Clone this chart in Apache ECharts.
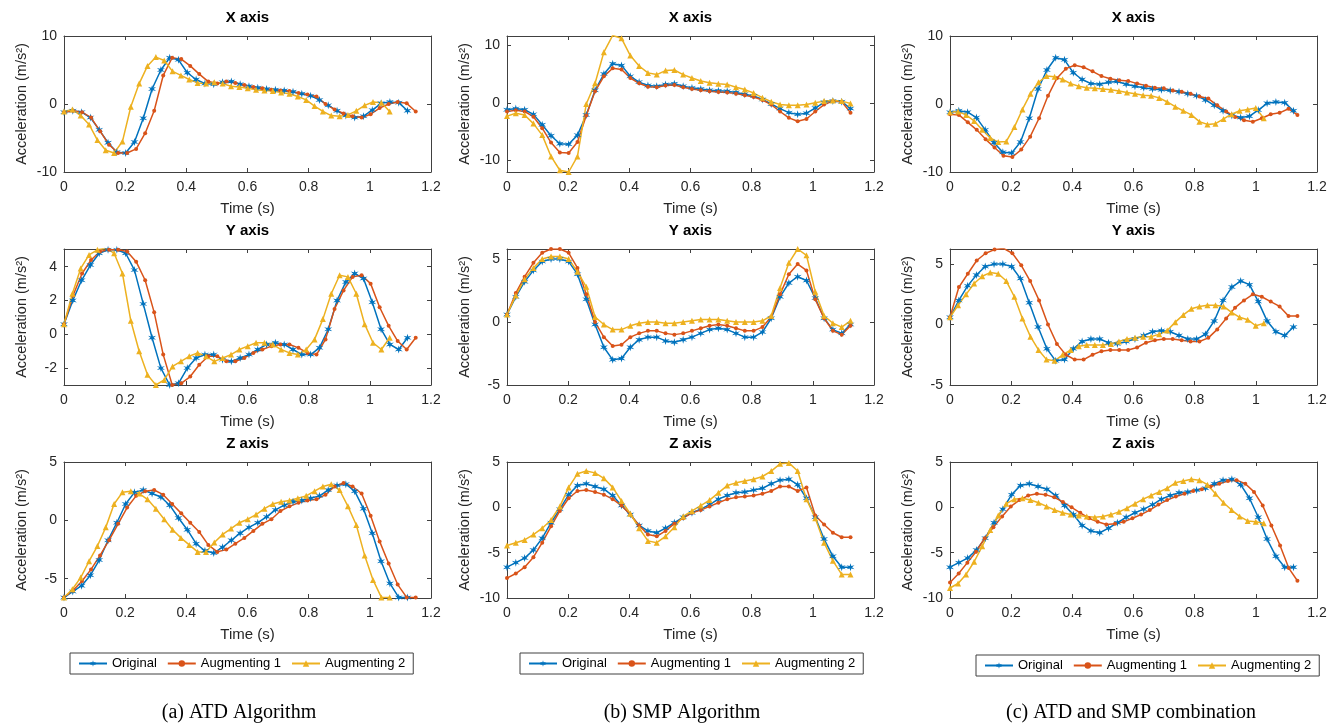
<!DOCTYPE html>
<html>
<head>
<meta charset="utf-8">
<title>Acceleration augmentation</title>
<script src="https://cdn.jsdelivr.net/npm/echarts@6/dist/echarts.min.js"></script>
<style>
html, body { margin: 0; padding: 0; background: #fff; }
#chart { width: 1330px; height: 725px; }
</style>
</head>
<body>
<div id="chart"></div>
<script>
// ---- data (m/s^2) ----
const seriesNames = ['Original', 'Augmenting 1', 'Augmenting 2'];
const axisTitles = ['X axis', 'Y axis', 'Z axis'];
const captions = ['(a) ATD Algorithm', '(b) SMP Algorithm', '(c) ATD and SMP combination'];
const xTicks = [0, 0.2, 0.4, 0.6, 0.8, 1, 1.2];

// sampling step of the original recording (s), 40 samples
const timeStep = 0.0288;
const origX = [-1.2,-1.0,-1.2,-2.0,-3.8,-5.7,-7.1,-7.2,-5.6,-2.1,2.2,5.0,6.8,6.5,4.6,3.6,3.0,2.9,3.2,3.3,2.9,2.6,2.4,2.2,2.1,2.0,1.8,1.5,1.2,0.6,-0.2,-1.0,-1.7,-2.0,-1.8,-0.9,0.1,0.3,0.2,-1.0];
const origY = [0.6,2.0,3.2,4.1,4.8,5.0,5.0,4.8,3.8,1.8,-0.2,-2.0,-3.0,-2.9,-2.0,-1.4,-1.2,-1.2,-1.5,-1.6,-1.4,-1.2,-0.9,-0.6,-0.5,-0.6,-0.9,-1.2,-1.2,-0.8,0.3,2.0,3.1,3.6,3.3,1.9,0.3,-0.6,-0.9,-0.2];
const origZ = [-6.6,-6.1,-5.6,-4.7,-3.4,-1.7,-0.2,1.4,2.4,2.6,2.3,2.0,1.3,0.2,-0.8,-2.0,-2.6,-2.8,-2.3,-1.7,-1.1,-0.6,-0.2,0.3,0.9,1.3,1.6,1.7,1.9,2.1,2.6,3.0,3.1,2.5,1.0,-1.1,-3.5,-5.4,-6.6,-6.6];

// (a) ATD: time warped, so each augmented series ends at its own time
const atdEnd1 = 1.15;
const atdEnd2 = 1.065;
const atdX1 = [-1.2,-1.0,-1.2,-2.0,-4.0,-6.0,-7.2,-7.2,-6.6,-4.3,-1.0,4.2,6.8,6.6,5.6,4.4,3.3,3.0,3.3,3.1,2.8,2.5,2.3,2.1,2.0,1.9,1.6,1.4,1.1,0.0,-0.8,-1.4,-1.8,-2.0,-1.5,-0.6,0.0,0.3,0.1,-1.1];
const atdX2 = [-1.1,-0.8,-1.7,-3.0,-5.3,-6.8,-7.2,-5.5,-0.4,3.0,5.6,6.9,6.4,4.8,4.2,3.6,3.1,3.0,3.2,3.0,2.6,2.5,2.3,2.1,2.0,1.9,1.7,1.5,1.1,0.6,-0.3,-1.1,-1.7,-1.8,-1.6,-1.0,-0.2,0.3,0.2,-1.1];
const atdY1 = [0.6,2.3,3.6,4.4,4.9,5.0,5.0,4.9,4.3,3.2,1.3,-1.2,-3.0,-2.9,-2.5,-1.8,-1.3,-1.3,-1.6,-1.6,-1.4,-1.1,-0.9,-0.7,-0.6,-0.6,-0.8,-1.1,-1.2,-0.3,1.5,2.6,3.4,3.5,3.0,1.6,0.5,-0.4,-0.9,-0.2];
const atdY2 = [0.6,2.4,3.9,4.7,5.0,5.1,4.8,3.6,0.8,-1.0,-2.4,-3.0,-2.7,-1.9,-1.6,-1.3,-1.1,-1.3,-1.6,-1.4,-1.2,-0.9,-0.7,-0.5,-0.5,-0.6,-0.9,-1.1,-1.2,-0.9,-0.3,0.9,2.4,3.5,3.4,2.4,0.6,-0.5,-0.9,-0.2];
const atdZ1 = [-6.6,-6.0,-5.2,-4.2,-3.0,-1.7,-0.3,1.1,2.1,2.5,2.6,2.2,1.4,0.6,-0.2,-1.0,-2.1,-2.7,-2.5,-2.0,-1.5,-0.9,-0.3,0.1,0.8,1.2,1.5,1.7,1.8,2.2,2.9,3.2,2.9,2.3,0.4,-1.8,-3.7,-5.5,-6.6,-6.6];
const atdZ2 = [-6.6,-5.9,-4.9,-3.5,-2.2,-0.6,1.4,2.4,2.5,2.3,1.8,1.0,0.1,-0.8,-1.5,-2.1,-2.7,-2.7,-1.9,-1.2,-0.7,-0.2,0.1,0.5,1.0,1.4,1.6,1.7,1.9,2.1,2.5,2.9,3.1,2.6,1.2,-0.4,-3.0,-5.1,-6.6,-6.6];

// (b) SMP: magnitude warped, same time base as the original
const smpX1 = [-1.5,-1.3,-1.5,-2.4,-4.4,-6.9,-8.6,-8.7,-6.8,-2.2,2.0,4.6,6.0,5.8,4.3,3.4,2.8,2.7,3.0,3.1,2.7,2.4,2.2,2.0,1.9,1.8,1.6,1.3,1.0,0.5,-0.3,-1.5,-2.6,-3.2,-2.8,-1.5,-0.3,0.3,0.2,-1.7];
const smpX2 = [-2.3,-1.8,-2.1,-3.6,-5.6,-9.3,-11.7,-12.0,-9.3,-0.2,3.4,8.8,11.7,11.2,8.2,6.4,5.2,4.9,5.6,5.7,4.9,4.3,3.8,3.5,3.3,3.2,2.7,2.3,1.7,0.9,0.2,-0.3,-0.4,-0.4,-0.3,0.0,0.3,0.4,0.3,-0.1];
const smpY1 = [0.6,2.3,3.6,4.7,5.5,5.8,5.8,5.5,4.3,2.2,0.0,-1.2,-1.9,-1.8,-1.2,-0.9,-0.7,-0.7,-0.9,-1.0,-0.9,-0.7,-0.5,-0.3,-0.2,-0.3,-0.5,-0.7,-0.7,-0.4,0.4,2.2,3.8,4.6,4.1,1.8,0.3,-0.7,-1.0,-0.3];
const smpY2 = [0.6,2.1,3.4,4.3,5.0,5.2,5.2,5.0,4.0,2.8,0.4,-0.2,-0.6,-0.6,-0.3,-0.1,0.0,0.0,-0.1,-0.1,0.0,0.1,0.2,0.2,0.2,0.1,0.0,0.0,0.0,0.1,0.5,2.7,4.7,5.8,5.3,2.4,0.5,-0.1,-0.4,0.1];
const smpZ1 = [-7.8,-7.3,-6.6,-5.5,-3.9,-2.1,-0.4,1.0,1.8,1.9,1.7,1.4,0.9,0.2,-0.8,-2.0,-3.0,-3.2,-2.6,-1.8,-1.2,-0.6,-0.3,0.1,0.5,0.9,1.1,1.2,1.3,1.5,1.8,2.3,2.3,1.8,2.2,-0.9,-1.9,-2.8,-3.3,-3.3];
const smpZ2 = [-4.2,-3.9,-3.6,-3.0,-2.3,-1.4,0.1,2.2,3.7,4.0,3.8,3.2,2.2,0.7,-0.7,-2.3,-3.7,-3.9,-3.2,-2.2,-1.0,-0.4,0.2,0.8,1.6,2.4,2.7,2.9,3.1,3.4,4.0,4.8,4.9,4.0,0.9,-1.2,-3.9,-5.9,-7.4,-7.4];

// (c) ATD + SMP
const combEnd1 = 1.136;
const combEnd2 = 1.026;
const combX1 = [-1.5,-1.6,-2.7,-3.8,-5.2,-6.4,-7.6,-7.8,-6.7,-4.8,-2.1,1.2,3.8,5.2,5.7,5.4,4.8,4.1,3.7,3.5,3.4,3.0,2.7,2.4,2.3,2.0,1.8,1.5,1.1,0.8,-0.2,-1.1,-1.9,-2.4,-2.6,-2.1,-1.5,-1.3,-0.7,-1.6];
const combX2 = [-1.2,-1.1,-1.6,-2.5,-3.8,-5.0,-5.6,-5.5,-3.4,-0.8,1.5,3.2,4.1,4.0,3.6,3.0,2.6,2.4,2.3,2.2,2.1,1.9,1.7,1.5,1.3,1.2,0.9,0.3,-0.4,-1.0,-1.6,-2.6,-3.0,-2.9,-2.2,-1.5,-1.0,-0.8,-0.6,-2.1];
const combY1 = [0.6,3.1,4.2,5.3,5.9,6.2,6.3,5.9,4.9,3.6,2.0,0.0,-1.6,-2.5,-2.9,-2.9,-2.5,-2.2,-2.1,-2.1,-2.1,-1.9,-1.5,-1.3,-1.2,-1.2,-1.3,-1.4,-1.4,-1.1,-0.4,0.5,1.4,2.0,2.5,2.3,1.9,1.5,0.7,0.7];
const combY2 = [0.6,1.6,2.5,3.4,4.0,4.3,4.2,3.6,2.3,0.5,-1.0,-2.1,-2.9,-3.0,-2.5,-2.1,-1.8,-1.7,-1.7,-1.7,-1.6,-1.4,-1.2,-1.1,-1.0,-1.0,-0.8,-0.5,0.2,0.8,1.3,1.5,1.6,1.6,1.5,1.0,0.6,0.4,-0.1,0.1];
const combZ1 = [-8.3,-7.3,-6.1,-4.9,-3.4,-2.2,-1.0,0.1,0.8,1.3,1.5,1.4,1.1,0.6,0.0,-0.6,-1.2,-1.6,-1.9,-1.8,-1.6,-1.2,-0.8,-0.3,0.3,0.8,1.2,1.5,1.8,2.0,2.3,2.6,2.9,3.0,2.6,1.7,0.2,-2.0,-4.2,-6.7,-8.1];
const combZ2 = [-8.9,-8.4,-7.4,-6.0,-4.3,-2.5,-0.9,0.4,0.9,1.0,0.8,0.5,0.1,-0.3,-0.6,-0.8,-0.9,-1.0,-1.1,-1.0,-0.8,-0.5,-0.1,0.4,0.9,1.3,1.7,2.1,2.7,2.9,3.1,3.0,2.5,1.5,0.5,-0.3,-1.0,-1.5,-1.6,-1.75];

// y axis ranges and tick labels, [row][column]
const yRanges = [
  [[-10, 10], [-12, 11.6], [-10, 10]],
  [[-3, 5.05], [-5, 5.8], [-5, 6.25]],
  [[-6.65, 5], [-10, 5], [-10, 5]]
];
const yTicks = [
  [[-10, 0, 10], [-10, 0, 10], [-10, 0, 10]],
  [[-2, 0, 2, 4], [-5, 0, 5], [-5, 0, 5]],
  [[-5, 0, 5], [-10, -5, 0, 5], [-10, -5, 0, 5]]
];

// ---- layout ----
const colLeft = [64, 507, 950];
const rowTop = [36, 249, 462];
const plotW = 367;
const plotH = 136;
const colors = ['#0072BD', '#D95319', '#EDB120'];
const textColor = '#262626';
const lineColor = '#404040';
const starPath = 'path://M0,-10L1.75,-3.03L8.66,-5L3.5,0L8.66,5L1.75,3.03L0,10L-1.75,3.03L-8.66,5L-3.5,0L-8.66,-5L-1.75,-3.03Z';
const symbols = [starPath, 'circle', 'triangle'];
const symbolSizes = [8, 4, 6];

const origEnd = timeStep * (origX.length - 1);
const rowsData = [
  [
    [[origX, origEnd], [atdX1, atdEnd1], [atdX2, atdEnd2]],
    [[origX, origEnd], [smpX1, origEnd], [smpX2, origEnd]],
    [[origX, origEnd], [combX1, combEnd1], [combX2, combEnd2]]
  ],
  [
    [[origY, origEnd], [atdY1, atdEnd1], [atdY2, atdEnd2]],
    [[origY, origEnd], [smpY1, origEnd], [smpY2, origEnd]],
    [[origY, origEnd], [combY1, combEnd1], [combY2, combEnd2]]
  ],
  [
    [[origZ, origEnd], [atdZ1, atdEnd1], [atdZ2, atdEnd2]],
    [[origZ, origEnd], [smpZ1, origEnd], [smpZ2, origEnd]],
    [[origZ, origEnd], [combZ1, combEnd1], [combZ2, combEnd2]]
  ]
];

// samples are evenly spaced between 0 and the series end time
const toPoints = (values, tEnd) => values.map((v, i) => [i * tEnd / (values.length - 1), v]);

const font = 'Liberation Sans';
const grids = [];
const xAxes = [];
const yAxes = [];
const series = [];
const graphics = [];

for (let r = 0; r < 3; r++) {
  for (let c = 0; c < 3; c++) {
    const p = r * 3 + c;
    grids.push({ left: colLeft[c], top: rowTop[r], width: plotW, height: plotH });

    const axisBase = {
      gridIndex: p,
      type: 'value',
      axisLine: { show: true, onZero: false, lineStyle: { color: lineColor, width: 1 } },
      axisTick: { show: true, inside: true, length: 4, lineStyle: { color: lineColor } },
      splitLine: { show: false }
    };
    // bottom axis with labels, top axis only for the box and ticks
    xAxes.push(Object.assign({}, axisBase, {
      position: 'bottom', min: 0, max: 1.2, interval: 0.2,
      axisTick: Object.assign({}, axisBase.axisTick, { customValues: xTicks }),
      axisLabel: { customValues: xTicks, color: textColor, fontSize: 14, fontFamily: font, margin: 8 },
      name: 'Time (s)', nameLocation: 'middle', nameGap: 29,
      nameTextStyle: { color: textColor, fontSize: 15, fontFamily: font }
    }));
    xAxes.push(Object.assign({}, axisBase, {
      position: 'top', min: 0, max: 1.2,
      axisTick: Object.assign({}, axisBase.axisTick, { customValues: xTicks }),
      axisLabel: { show: false }
    }));
    const ticks = yTicks[r][c];
    yAxes.push(Object.assign({}, axisBase, {
      position: 'left', min: yRanges[r][c][0], max: yRanges[r][c][1],
      axisTick: Object.assign({}, axisBase.axisTick, { customValues: ticks }),
      axisLabel: { customValues: ticks, color: textColor, fontSize: 14, fontFamily: font, margin: 7 },
      name: 'Acceleration (m/s²)', nameLocation: 'middle', nameGap: 35, nameRotate: 90,
      nameTextStyle: { color: textColor, fontSize: 14.5, fontFamily: font }
    }));
    yAxes.push(Object.assign({}, axisBase, {
      position: 'right', min: yRanges[r][c][0], max: yRanges[r][c][1],
      axisTick: Object.assign({}, axisBase.axisTick, { customValues: ticks }),
      axisLabel: { show: false }
    }));

    rowsData[r][c].forEach((item, k) => {
      series.push({
        name: seriesNames[k],
        type: 'line',
        xAxisIndex: p * 2,
        yAxisIndex: p * 2,
        data: toPoints(item[0], item[1]),
        symbol: symbols[k],
        symbolSize: symbolSizes[k],
        showSymbol: true,
        lineStyle: { color: colors[k], width: 1.5 },
        itemStyle: { color: colors[k] },
        emphasis: { disabled: true },
        animation: false
      });
    });

    graphics.push({
      type: 'text',
      x: colLeft[c] + plotW / 2,
      y: rowTop[r] - 18,
      style: {
        text: axisTitles[r], fill: '#000', font: 'bold 15px "Liberation Sans"',
        textAlign: 'center', textVerticalAlign: 'middle'
      }
    });
  }
}

const legendLeft = [70, 520, 976];
const legendTop = [653, 653, 655];
const legends = legendLeft.map((left, i) => ({
  left: left,
  top: legendTop[i],
  data: seriesNames,
  selectedMode: false,
  orient: 'horizontal',
  itemWidth: 28,
  itemHeight: 8,
  itemGap: 10,
  padding: [4, 8],
  borderColor: lineColor,
  borderWidth: 1,
  textStyle: { color: '#000', fontSize: 13, fontFamily: font }
}));

const captionX = [239, 682, 1131];
captions.forEach((text, i) => {
  graphics.push({
    type: 'text',
    x: captionX[i],
    y: 713,
    style: {
      text: text, fill: '#000', font: '20px "Liberation Serif"',
      textAlign: 'center', textVerticalAlign: 'middle'
    }
  });
});

const chart = echarts.init(document.getElementById('chart'));
chart.setOption({
  backgroundColor: '#fff',
  animation: false,
  grid: grids,
  xAxis: xAxes,
  yAxis: yAxes,
  legend: legends,
  series: series,
  graphic: graphics
});
</script>
</body>
</html>
